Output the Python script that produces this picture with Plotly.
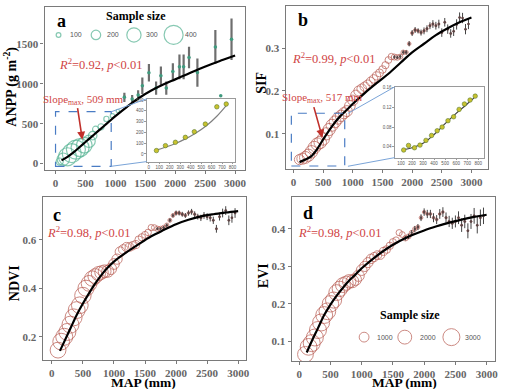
import plotly.graph_objects as go

# ---------------- data ----------------
MAP = [100,150,200,250,300,350,400,450,500,550,
       600,650,700,750,800,850,900,950,1000,1050,
       1100,1150,1200,1250,1300,1350,1400,1450,1500,1550,
       1600,1650,1700,1750,1800,1850,1900,1950,2000,2050,
       2100,2150,2200,2250,2300,2350,2400,2450,2500,2550,
       2600,2650,2700,2750,2800,2850,2900,2950]

n_cd = [2600,2900,3000,3000,3000,3000,2950,2900,2800,2700,
        2600,2450,2300,2100,1900,1700,1500,1350,1200,1100,
        1050,950,870,800,740,680,620,560,500,450,
        400,350,300,260,220,190,160,140,120,100,
        90,85,80,75,70,65,60,55,50,48,
        45,42,40,38,36,34,32,30]

n_b = [2000,2400,2700,2900,3000,3000,3000,3000,2950,2900,
       2850,2800,2700,2600,2500,2400,2300,2200,2100,2000,
       1900,1800,1700,1600,1500,1400,1300,1200,1100,1000,
       900,800,700,600,500,400,300,250,200,180,
       160,150,140,130,120,110,100,95,90,85,
       80,75,70,65,60,55,50,45]

sif = [0.040,0.042,0.045,0.050,0.058,0.068,0.076,0.080,0.088,0.100,
       0.110,0.120,0.128,0.136,0.142,0.148,0.153,0.165,0.178,0.190,
       0.200,0.205,0.210,0.215,0.222,0.228,0.235,0.242,0.250,0.260,
       0.272,0.280,0.279,0.278,0.280,0.290,0.290,0.310,0.335,0.342,
       0.340,0.336,0.340,0.345,0.352,0.356,0.352,0.356,0.336,0.360,
       0.344,0.334,0.339,0.355,0.371,0.370,0.344,0.356]

ndvi = [0.145,0.180,0.200,0.220,0.250,0.280,0.310,0.330,0.370,0.400,
        0.420,0.440,0.450,0.460,0.465,0.470,0.470,0.480,0.500,0.520,
        0.550,0.560,0.570,0.570,0.575,0.580,0.600,0.610,0.620,0.630,
        0.650,0.650,0.645,0.645,0.650,0.660,0.680,0.700,0.710,0.710,
        0.705,0.700,0.710,0.715,0.705,0.695,0.690,0.700,0.695,0.690,
        0.680,0.645,0.695,0.710,0.720,0.680,0.690,0.710]

evi = [0.065,0.085,0.095,0.110,0.130,0.150,0.170,0.180,0.200,0.210,
       0.230,0.240,0.250,0.255,0.260,0.260,0.265,0.275,0.290,0.300,
       0.310,0.320,0.325,0.330,0.330,0.340,0.345,0.355,0.365,0.370,
       0.390,0.385,0.375,0.380,0.390,0.400,0.405,0.430,0.445,0.440,
       0.440,0.430,0.425,0.440,0.445,0.430,0.420,0.415,0.420,0.430,
       0.410,0.420,0.395,0.420,0.435,0.410,0.430,0.435]

TAIL = 32  # index of MAP=1700, from where error bars are shown
sif_err = [0.004,0.004,0.005,0.005,0.005,0.006,0.007,0.007,0.006,0.007,
           0.008,0.008,0.008,0.009,0.009,0.010,0.010,0.010,0.011,0.010,
           0.011,0.012,0.012,0.012,0.012,0.012]
ndvi_err = [0.006,0.006,0.007,0.007,0.008,0.008,0.010,0.010,0.010,0.010,
            0.011,0.012,0.012,0.012,0.013,0.014,0.014,0.015,0.015,0.016,
            0.016,0.018,0.018,0.020,0.020,0.020]
evi_err = [0.006,0.007,0.007,0.008,0.008,0.009,0.010,0.011,0.011,0.012,
           0.012,0.013,0.013,0.014,0.015,0.015,0.016,0.017,0.018,0.018,
           0.020,0.020,0.021,0.022,0.022,0.022]

# panel a (ANPP)
a_map = [70,130,200,270,340,410,480,560,620,670,760,850,950,1040,1150]
a_anpp = [25,55,85,130,175,200,230,280,350,430,460,560,600,660,840]
a_n = [150,260,380,400,400,380,330,260,180,130,130,110,90,70,40]
a_eb_map = [1150,1280,1380,1450,1560,1680,1760,1850,1960,2070,2140,2230,2370,2670,2760,2940]
a_eb_val = [830,810,860,975,1137,946,1100,946,1154,1212,1212,1329,1141,1462,850,1558]
a_eb_err = [58,50,60,104,110,83,115,83,104,156,156,135,177,212,0,260]

# fitted curves
fa_x = [100,200,300,400,500,600,700,800,900,1000,1200,1400,1600,1800,2000,2200,2400,2600,2800,3000]
fa_y = [40,85,140,205,270,335,400,465,530,595,715,825,915,990,1055,1120,1185,1245,1300,1355]
fb_x = [100,200,300,400,500,600,700,800,900,1000,1200,1400,1600,1800,2000,2200,2400,2600,2800,3000]
fb_y = [0.034,0.040,0.048,0.065,0.087,0.108,0.127,0.143,0.156,0.170,0.195,0.218,0.240,0.265,0.290,0.310,0.330,0.346,0.360,0.371]
fc_x = [130,200,300,400,500,600,700,800,900,1000,1200,1400,1600,1800,2000,2200,2400,2600,2800,3000]
fc_y = [0.142,0.180,0.235,0.290,0.337,0.380,0.420,0.455,0.485,0.510,0.548,0.582,0.614,0.640,0.664,0.682,0.696,0.705,0.712,0.718]
fd_x = [120,200,300,400,500,600,700,800,900,1000,1200,1400,1600,1800,2000,2200,2400,2600,2800,3000]
fd_y = [0.070,0.100,0.135,0.170,0.198,0.222,0.243,0.262,0.278,0.295,0.323,0.347,0.367,0.383,0.396,0.407,0.417,0.425,0.432,0.438]

# insets
ia_x = [73,159,254,349,435,540,650,740]
ia_y = [31,77,108,154,206,277,437,463]
ia_fx = [70,150,250,350,450,550,650,750]
ia_fy = [35,60,95,140,195,262,350,460]
ib_x = [124,168,222,272,326,377,428,473,526,577,627,675,726,773]
ib_y = [0.0334,0.0427,0.038,0.0434,0.053,0.063,0.0726,0.080,0.093,0.101,0.116,0.127,0.135,0.143]
ib_fx = [120,200,300,400,500,600,700,780]
ib_fy = [0.034,0.038,0.047,0.065,0.087,0.108,0.127,0.143]

leg_a = [100,200,300,400]
leg_d = [1000,2000,3000]

# ---------------- geometry ----------------
W, H = 506, 389
PA = (45, 6, 247, 169);   RA = ([-182, 3166], [-75, 1962])
PB = (288, 5, 492, 168);  RB = ([-132, 3281], [0.019, 0.398])
PC = (43, 197, 248, 360); RC = ([-148, 3127], [0.104, 0.774])
PD = (294, 197, 499, 361); RD = ([-121, 3135], [0.047, 0.484])
IA = (148, 98, 237, 161); RIA = ([-19, 825], [-71, 512])
IB = (398, 86, 488, 157); RIB = ([44, 854], [0.018, 0.162])

def dom(p):
    l, t, r, b = p
    return [l / W, r / W], [1 - b / H, 1 - t / H]

def to_data(px, py, P, R):
    l, t, r, b = P
    (x0, x1), (y0, y1) = R
    return x0 + (px - l) / (r - l) * (x1 - x0), y0 + (b - py) / (b - t) * (y1 - y0)

def fx(px): return px / W
def fy(py): return 1 - py / H

TEAL = '#55b393'
RED = '#b85a50'
TXTRED = '#d04545'
SERIF = 'Liberation Serif'
SANS = 'Liberation Sans'
# plotly 'area' sizing: diameter = sqrt(2*n/sizeref)
SREF_CD = 2 * 3000 / 17 ** 2
SREF_B = 2 * 3000 / 12.5 ** 2
SREF_A = 400 / 19

fig = go.Figure()

# panel a
fig.add_trace(go.Scatter(x=a_map, y=a_anpp, mode='markers', xaxis='x', yaxis='y',
    marker=dict(size=a_n, sizemode='diameter', sizeref=SREF_A, color='rgba(0,0,0,0)',
                line=dict(color=TEAL, width=1.2))))
fig.add_trace(go.Scatter(x=a_eb_map, y=a_eb_val, mode='markers', xaxis='x', yaxis='y',
    marker=dict(size=3.5, color='#3f9a7e'),
    error_y=dict(type='data', array=a_eb_err, color='#6e6e6e', thickness=2.2, width=0)))
fig.add_trace(go.Scatter(x=fa_x, y=fa_y, mode='lines', xaxis='x', yaxis='y',
    line=dict(color='black', width=2.2, shape='spline')))

def tail(lst):
    return lst[TAIL:]

for xa, ya, vals, errs, ns, sref, fxs, fys in [
        ('x2', 'y2', sif, sif_err, n_b, SREF_B, fb_x, fb_y),
        ('x3', 'y3', ndvi, ndvi_err, n_cd, SREF_CD, fc_x, fc_y),
        ('x4', 'y4', evi, evi_err, n_cd, SREF_CD, fd_x, fd_y)]:
    fig.add_trace(go.Scatter(x=MAP, y=vals, mode='markers', xaxis=xa, yaxis=ya,
        marker=dict(size=ns, sizemode='area', sizeref=sref, color='rgba(0,0,0,0)',
                    line=dict(color=RED, width=1.0))))
    fig.add_trace(go.Scatter(x=tail(MAP), y=tail(vals), mode='markers', xaxis=xa, yaxis=ya,
        marker=dict(size=2.5, color='#5a4444'),
        error_y=dict(type='data', array=errs, color='#444444', thickness=1.0, width=0)))
    fig.add_trace(go.Scatter(x=fxs, y=fys, mode='lines', xaxis=xa, yaxis=ya,
        line=dict(color='black', width=2.2, shape='spline')))

# insets
fig.add_trace(go.Scatter(x=ia_fx, y=ia_fy, mode='lines', xaxis='x5', yaxis='y5',
    line=dict(color='#808080', width=1.2, shape='spline')))
fig.add_trace(go.Scatter(x=ia_x, y=ia_y, mode='markers', xaxis='x5', yaxis='y5',
    marker=dict(size=4.5, color='#c9c22e', line=dict(color='#5a7a30', width=0.6))))
fig.add_trace(go.Scatter(x=ib_fx, y=ib_fy, mode='lines', xaxis='x6', yaxis='y6',
    line=dict(color='#404040', width=1.2, shape='spline')))
fig.add_trace(go.Scatter(x=ib_x, y=ib_y, mode='markers', xaxis='x6', yaxis='y6',
    marker=dict(size=4.5, color='#c9c22e', line=dict(color='#5a7a30', width=0.6))))

# legend a
lax, lay = zip(*[to_data(px, 34, PA, RA) for px in (59, 96.7, 135, 175)])
fig.add_trace(go.Scatter(x=list(lax), y=list(lay), mode='markers', xaxis='x', yaxis='y',
    marker=dict(size=leg_a, sizemode='diameter', sizeref=SREF_A, color='rgba(0,0,0,0)',
                line=dict(color=TEAL, width=1.2))))
# legend d
ldx, ldy = zip(*[to_data(px, 337, PD, RD) for px in (367, 408, 455)])
fig.add_trace(go.Scatter(x=list(ldx), y=list(ldy), mode='markers', xaxis='x4', yaxis='y4',
    marker=dict(size=leg_d, sizemode='area', sizeref=SREF_CD, color='rgba(0,0,0,0)',
                line=dict(color=RED, width=1.0))))

# ---------------- axes ----------------
def main_axis(domain, rng, anchor, tickvals):
    return dict(domain=domain, range=rng, anchor=anchor, showline=True, linecolor='#7a7a7a',
                linewidth=1.3, mirror=True, ticks='outside', ticklen=3, tickcolor='#7a7a7a',
                showgrid=False, zeroline=False, tickvals=tickvals,
                tickfont=dict(family=SERIF, size=11, color='#666666', weight='bold'))

def inset_axis(domain, rng, anchor, tickvals, ticktext=None):
    d = dict(domain=domain, range=rng, anchor=anchor, showline=True, linecolor='#9a9a9a',
             linewidth=0.8, mirror=True, ticks='outside', ticklen=1.5, tickcolor='#9a9a9a',
             showgrid=False, zeroline=False, tickvals=tickvals,
             tickfont=dict(family=SANS, size=4.5, color='#555555'))
    if ticktext is not None:
        d['ticktext'] = ticktext
    return d

xt = [0, 500, 1000, 1500, 2000, 2500, 3000]
layout = dict(width=W, height=H, autosize=False, margin=dict(l=0, r=0, t=0, b=0),
              paper_bgcolor='white', plot_bgcolor='white', showlegend=False)
for i, (P, R, yt) in enumerate([(PA, RA, [0, 500, 1000, 1500]),
                                (PB, RB, [0.1, 0.2, 0.3]),
                                (PC, RC, [0.2, 0.4, 0.6]),
                                (PD, RD, [0.1, 0.2, 0.3, 0.4])], start=1):
    dx, dy = dom(P)
    s = '' if i == 1 else str(i)
    layout['xaxis' + s] = main_axis(dx, R[0], 'y' + s, xt)
    layout['yaxis' + s] = main_axis(dy, R[1], 'x' + s, yt)

dx, dy = dom(IA)
layout['xaxis5'] = inset_axis(dx, RIA[0], 'y5', [0, 100, 200, 300, 400, 500, 600, 700, 800])
layout['yaxis5'] = inset_axis(dy, RIA[1], 'x5', [0, 100, 200, 300, 400, 500])
dx, dy = dom(IB)
layout['xaxis6'] = inset_axis(dx, RIB[0], 'y6', [100, 200, 300, 400, 500, 600, 700, 800])
layout['yaxis6'] = inset_axis(dy, RIB[1], 'x6', [0.04, 0.08, 0.12, 0.16],
                              ['0.04', '0.08', '0.12', '0.16'])

# ---------------- shapes ----------------
BLUE = '#4a7cc4'
LBLUE = '#7aa4d8'
shapes = [
    dict(type='rect', xref='x5', yref='y5', x0=RIA[0][0], x1=RIA[0][1], y0=RIA[1][0], y1=RIA[1][1],
         fillcolor='white', line=dict(width=0), layer='below'),
    dict(type='rect', xref='x6', yref='y6', x0=RIB[0][0], x1=RIB[0][1], y0=RIB[1][0], y1=RIB[1][1],
         fillcolor='white', line=dict(width=0), layer='below'),
    dict(type='rect', xref='x', yref='y', x0=0, x1=930, y0=-35, y1=650,
         line=dict(color=BLUE, width=1.2, dash='dash')),
    dict(type='rect', xref='x2', yref='y2', x0=-37, x1=863, y0=0.025, y1=0.148,
         line=dict(color=BLUE, width=1.2, dash='dash')),
    dict(type='line', xref='paper', yref='paper', x0=fx(112.3), y0=fy(111), x1=fx(148), y1=fy(98),
         line=dict(color=LBLUE, width=1)),
    dict(type='line', xref='paper', yref='paper', x0=fx(112.3), y0=fy(165.7), x1=fx(148), y1=fy(161),
         line=dict(color=LBLUE, width=1)),
    dict(type='line', xref='paper', yref='paper', x0=fx(350.7), y0=fy(112.7), x1=fx(398), y1=fy(86),
         line=dict(color=LBLUE, width=1)),
    dict(type='line', xref='paper', yref='paper', x0=fx(350.7), y0=fy(165.7), x1=fx(398), y1=fy(157),
         line=dict(color=LBLUE, width=1)),
]
layout['shapes'] = shapes

# ---------------- annotations ----------------
def txt(text, px, py, size, color='black', family=SERIF, angle=0, xanchor='center'):
    return dict(text=text, x=fx(px), y=fy(py), xref='paper', yref='paper', showarrow=False,
                xanchor=xanchor, yanchor='middle', textangle=angle,
                font=dict(family=family, size=size, color=color))

R2 = '<i>R</i><sup>2</sup>=0.{}, <i>p</i><0.01'
ann = [
    txt('<b>a</b>', 62, 20, 18), txt('<b>b</b>', 305, 19, 18),
    txt('<b>c</b>', 57, 215, 18), txt('<b>d</b>', 310, 213, 18),
    txt('<b>ANPP (g m<sup>-2</sup>)</b>', 11, 86, 14, angle=-90),
    txt('<b>SIF</b>', 264, 82, 14, angle=-90),
    txt('<b>NDVI</b>', 14, 283, 14, angle=-90),
    txt('<b>EVI</b>', 265, 275, 14, angle=-90),
    txt('<b>MAP (mm)</b>', 145, 382, 13.5), txt('<b>MAP (mm)</b>', 408, 382, 13.5),
    txt(R2.format(92), 101, 63, 12.5, TXTRED), txt(R2.format(99), 336, 57, 12.5, TXTRED),
    txt(R2.format(98), 89, 232, 12.5, TXTRED), txt(R2.format(98), 342, 232, 12.5, TXTRED),
    txt('Slope<sub>max</sub>, 509 mm', 84, 99, 11, TXTRED),
    txt('Slope<sub>max</sub>, 517 mm', 325, 97, 11, TXTRED),
    txt('<b>Sample size</b>', 137, 15, 12), txt('<b>Sample size</b>', 413, 315, 12),
]
for lbl, px in zip(leg_a, (77, 114, 153, 193)):
    ann.append(txt(str(lbl), px, 34, 7, '#555555', SANS))
for lbl, px in zip(leg_d, (388, 431, 477)):
    ann.append(txt(str(lbl), px, 337, 7, '#555555', SANS))
for hx, hy, tx, ty in [(83, 139, 78, 106), (325, 137, 316, 105)]:
    ann.append(dict(text='', x=fx(hx), y=fy(hy), xref='paper', yref='paper', showarrow=True,
                    ax=tx - hx, ay=ty - hy, arrowcolor='#c0302b', arrowwidth=1.6,
                    arrowhead=2, arrowsize=1))
layout['annotations'] = ann

fig.update_layout(**layout)
fig.write_html('out.html', config={'displayModeBar': False},
               post_script="document.body.style.margin='0';document.body.style.padding='0';")
